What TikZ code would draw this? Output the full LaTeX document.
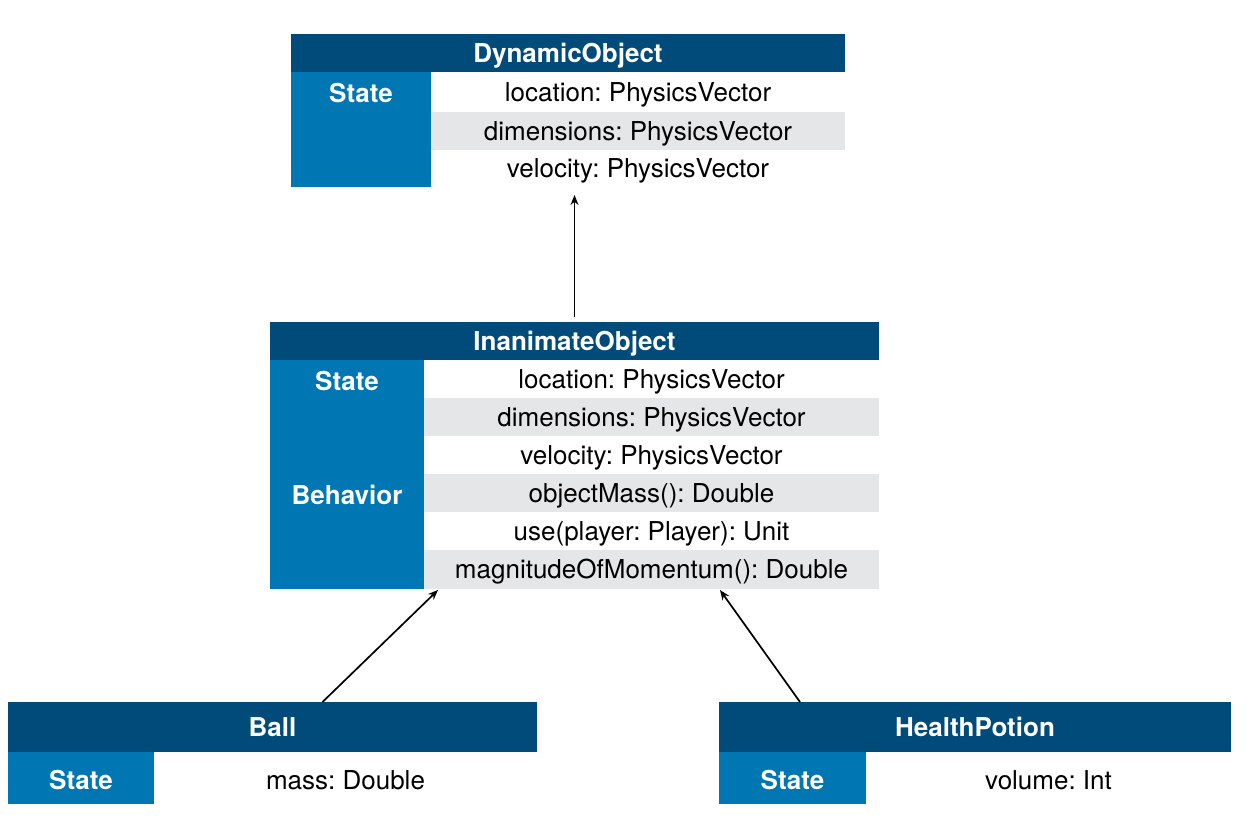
\documentclass[tikz,border=0pt]{standalone}
\usepackage{fontspec}
\setmainfont{TeX Gyre Heros}
\usetikzlibrary{arrows.meta}
\definecolor{hdr}{RGB}{0,75,122}
\definecolor{col}{RGB}{0,119,179}
\definecolor{rowgray}{RGB}{229,230,232}
\newcommand{\dfont}{\fontsize{26}{28}\selectfont\frenchspacing}
\tikzset{
  boxbase/.style={anchor=north west, inner sep=0pt, outer sep=0pt, text height=18.7pt, text depth=0pt},
  hbox/.style={boxbase, fill=hdr, text=white, font=\dfont\bfseries},
  cbox/.style={boxbase, fill=col},
  lbl/.style={text=white, font=\dfont\bfseries, inner sep=0pt, text height=18.7pt, text depth=0pt},
  whiterow/.style={boxbase, fill=white, font=\dfont},
  grayrow/.style={boxbase, fill=rowgray, font=\dfont},
  lowtext/.style={text height=22.7pt, text depth=0pt},
  arr/.style={line width=1.7pt, -{Stealth[length=10pt,width=8pt]}}
}
\begin{document}
\begin{tikzpicture}[x=1pt,y=-1pt]
\useasboundingbox[fill=white] (0,0) rectangle (1249,836);
% DynamicObject
\node[hbox, minimum width=554pt, minimum height=38pt] (dh) at (291,34) {DynamicObject};
\node[cbox, minimum width=140pt, minimum height=115pt] (dc) at (291,72) {};
\node[lbl] (dcs) at (361,93) {State};
\node[whiterow, minimum width=414pt, minimum height=40pt] (d1) at (431,72) {location: PhysicsVector};
\node[grayrow, minimum width=414pt, minimum height=38pt] (d2) at (431,112) {dimensions: PhysicsVector};
\node[whiterow, minimum width=414pt, minimum height=37pt] (d3) at (431,150) {velocity: PhysicsVector};
% InanimateObject
\node[hbox, minimum width=609pt, minimum height=38pt] (ih) at (270,322) {InanimateObject};
\node[cbox, minimum width=154pt, minimum height=229pt] (ic) at (270,360) {};
\node[lbl] (ics) at (347,381) {State};
\node[lbl] (icb) at (347,495) {Behavior};
\node[whiterow, minimum width=455pt, minimum height=38pt] (i1) at (424,360) {location: PhysicsVector};
\node[grayrow, minimum width=455pt, minimum height=38pt] (i2) at (424,398) {dimensions: PhysicsVector};
\node[whiterow, minimum width=455pt, minimum height=38pt] (i3) at (424,436) {velocity: PhysicsVector};
\node[grayrow, minimum width=455pt, minimum height=38pt] (i4) at (424,474) {objectMass(): Double};
\node[whiterow, minimum width=455pt, minimum height=38pt] (i5) at (424,512) {use(player: Player): Unit};
\node[grayrow, minimum width=455pt, minimum height=39pt] (i6) at (424,550) {magnitudeOfMomentum(): Double};
% Ball
\node[hbox, minimum width=529pt, minimum height=50pt] (bh) at (8,702) {Ball};
\node[cbox, lowtext, minimum width=146pt, minimum height=52pt, text=white, font=\dfont\bfseries] (bc) at (8,752) {State};
\node[whiterow, lowtext, minimum width=383pt, minimum height=52pt] (b1) at (154,752) {mass: Double};
% HealthPotion
\node[hbox, minimum width=512pt, minimum height=50pt] (hh) at (719,702) {HealthPotion};
\node[cbox, lowtext, minimum width=147pt, minimum height=52pt, text=white, font=\dfont\bfseries] (hc) at (719,752) {State};
\node[whiterow, lowtext, minimum width=365pt, minimum height=52pt] (h1) at (866,752) {volume: Int};
% connectors
\draw[arr] ([yshift=5pt]ih.north) -- ([yshift=-8pt]ih.north |- d3.south);
\draw[arr] ([xshift=50pt]bh.north) -- ([xshift=14pt,yshift=-1pt]i6.south west);
\draw[arr] ([xshift=81pt]hh.north west) -- ([xshift=296pt,yshift=-1pt]i6.south west);
\end{tikzpicture}
\end{document}
